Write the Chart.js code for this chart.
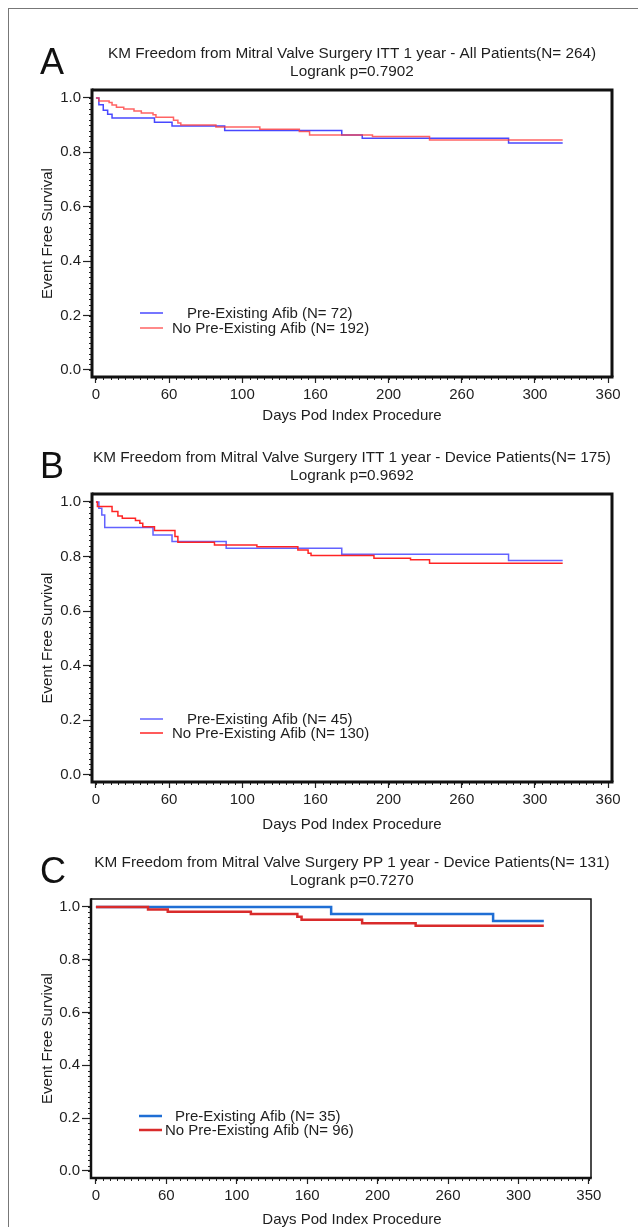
<!DOCTYPE html>
<html>
<head>
<meta charset="utf-8">
<script src="https://cdn.jsdelivr.net/npm/chart.js@4.4.1/dist/chart.umd.min.js"></script>
<style>
  html, body { margin: 0; padding: 0; background: #fff; }
  #page { position: relative; width: 638px; height: 1227px; overflow: hidden; }
  #page canvas { position: absolute; left: 0; top: 0; }
  .edge-top { position: absolute; left: 8px; top: 8px; right: 0; border-top: 1px solid #777; }
  .edge-left { position: absolute; left: 8px; top: 8px; bottom: 0; border-left: 1px solid #777; }
</style>
</head>
<body>
<div id="page">
  <div class="edge-top"></div>
  <div class="edge-left"></div>
  <canvas id="chartA" width="638" height="1227"></canvas>
  <canvas id="chartB" width="638" height="1227"></canvas>
  <canvas id="chartC" width="638" height="1227"></canvas>
</div>
<script>
// tick labels (the figure prints these under evenly spaced ticks)
const xTickVals = [0, 50, 100, 150, 200, 250, 300, 350];
const xLabelsAB = ['0', '60', '100', '160', '200', '260', '300', '360'];
const xLabelsC = ['0', '60', '100', '160', '200', '260', '300', '350'];
const yTickVals = [0, 0.2, 0.4, 0.6, 0.8, 1.0];

// A - ITT, all patients
const aPreDays = [0, 2, 5, 8, 11, 40, 52, 88, 168, 182, 282, 319];
const aPreSurv = [1, 0.975, 0.955, 0.94, 0.926, 0.91, 0.897, 0.88, 0.864, 0.852, 0.834, 0.834];
const aNoDays = [0, 2, 9, 11, 14, 19, 26, 31, 39, 41, 53, 56, 58, 82, 112, 139, 146, 189, 228, 319];
const aNoSurv = [1, 0.989, 0.983, 0.974, 0.966, 0.959, 0.952, 0.944, 0.938, 0.929, 0.918, 0.908, 0.9, 0.893, 0.885, 0.876, 0.864, 0.858, 0.845, 0.845];

// B - ITT, device patients
const bPreDays = [0, 2, 4, 6, 39, 52, 89, 168, 282, 319];
const bPreSurv = [1, 0.977, 0.952, 0.906, 0.879, 0.855, 0.83, 0.808, 0.785, 0.785];
const bNoDays = [0, 1, 11, 15, 18, 27, 30, 32, 40, 54, 56, 81, 110, 138, 145, 147, 190, 215, 228, 319];
const bNoSurv = [1, 0.983, 0.965, 0.948, 0.94, 0.932, 0.922, 0.909, 0.895, 0.873, 0.852, 0.842, 0.836, 0.824, 0.812, 0.804, 0.794, 0.788, 0.775, 0.775];

// C - PP, device patients
const cPreDays = [0, 167, 282, 318];
const cPreSurv = [1, 0.973, 0.947, 0.947];
const cNoDays = [0, 37, 51, 110, 143, 146, 189, 227, 318];
const cNoSurv = [1, 0.99, 0.982, 0.973, 0.963, 0.951, 0.938, 0.929, 0.929];

const FONT = '"Liberation Sans", Arial, Helvetica, sans-serif';
const TXT = '#1e1e1e';

// letters, titles, legend, minor ticks and the plot frame
const decor = {
  id: 'panelDecor',
  afterDraw(chart, args, o) {
    const { ctx, chartArea: a, scales: { x, y } } = chart;
    ctx.save();

    // minor ticks
    ctx.strokeStyle = '#222';
    ctx.lineWidth = 1;
    ctx.beginPath();
    const xEnd = xTickVals[xTickVals.length - 1];
    for (let i = 0; i * o.xMinor <= xEnd; i++) {
      const px = Math.round(x.getPixelForValue(i * o.xMinor)) + 0.5;
      ctx.moveTo(px, a.bottom);
      ctx.lineTo(px, a.bottom + 3);
    }
    for (let i = 0; i <= 50; i++) {
      const py = Math.round(y.getPixelForValue(i * 0.02)) + 0.5;
      ctx.moveTo(a.left, py);
      ctx.lineTo(a.left - 3, py);
    }
    ctx.stroke();

    // frame
    ctx.strokeStyle = '#111';
    ctx.lineWidth = o.frameThin;
    ctx.beginPath();
    ctx.moveTo(a.left, a.top);
    ctx.lineTo(a.right, a.top);
    ctx.lineTo(a.right, a.bottom);
    ctx.stroke();
    ctx.lineWidth = o.frameThick;
    ctx.beginPath();
    ctx.moveTo(a.left, a.top - o.frameThin / 2);
    ctx.lineTo(a.left, a.bottom);
    ctx.lineTo(a.right + o.frameThin / 2, a.bottom);
    ctx.stroke();

    // panel letter and title
    ctx.fillStyle = '#111';
    ctx.textAlign = 'left';
    ctx.textBaseline = 'alphabetic';
    ctx.font = '36px ' + FONT;
    ctx.fillText(o.letter, 40, a.top - 16);

    ctx.fillStyle = TXT;
    ctx.font = '15.3px ' + FONT;
    ctx.textAlign = 'center';
    ctx.textBaseline = 'middle';
    ctx.fillText(o.title[0], 352, a.top - 36);
    ctx.fillText(o.title[1], 352, a.top - 18);

    // axis titles
    ctx.font = '15px ' + FONT;
    ctx.fillText('Days Pod Index Procedure', 352, a.bottom + o.xTitleDy);
    ctx.save();
    ctx.translate(48, (a.top + a.bottom) / 2);
    ctx.rotate(-Math.PI / 2);
    ctx.fillText('Event Free Survival', 0, 0);
    ctx.restore();

    // legend
    ctx.textAlign = 'left';
    chart.data.datasets.forEach((ds, i) => {
      const ly = a.bottom - o.legendDy[i];
      ctx.strokeStyle = ds.borderColor;
      ctx.lineWidth = ds.borderWidth;
      ctx.beginPath();
      ctx.moveTo(a.left + 48, ly);
      ctx.lineTo(a.left + 71, ly);
      ctx.stroke();
      ctx.fillStyle = TXT;
      ctx.fillText(ds.label, a.left + o.legendTx[i], ly + 1);
    });

    ctx.restore();
  }
};

function makePanel(id, p) {
  const H = 1227;
  new Chart(document.getElementById(id), {
    type: 'line',
    data: {
      datasets: p.series.map((s, k) => ({
        label: s.label,
        data: s.days.map((d, i) => ({ x: d, y: s.surv[i] })),
        borderColor: s.color,
        borderWidth: p.lineWidth,
        pointRadius: 0,
        stepped: true,
        fill: false,
        order: k === 0 ? 1 : 0 // red curve on top
      }))
    },
    options: {
      responsive: false,
      animation: false,
      devicePixelRatio: 1,
      layout: { padding: { top: p.box.top, right: 638 - p.box.right, left: 0, bottom: 0 } },
      plugins: {
        legend: { display: false },
        tooltip: { enabled: false },
        panelDecor: p
      },
      scales: {
        x: {
          type: 'linear',
          min: p.xMin,
          max: p.xMax,
          afterFit: s => { s.height = H - p.box.bottom; },
          afterBuildTicks: s => { s.ticks = xTickVals.map(v => ({ value: v })); },
          ticks: {
            callback: (v, i) => p.xLabels[i],
            autoSkip: false,
            maxRotation: 0,
            padding: 3,
            color: TXT,
            font: { family: FONT, size: 15 }
          },
          grid: { drawOnChartArea: false, tickLength: 6, tickColor: '#222', tickWidth: 1.2 },
          border: { display: false }
        },
        y: {
          type: 'linear',
          min: p.yMin,
          max: p.yMax,
          afterFit: s => { s.width = p.box.left; },
          afterBuildTicks: s => { s.ticks = yTickVals.map(v => ({ value: v })); },
          ticks: {
            callback: v => v.toFixed(1),
            padding: 2,
            color: TXT,
            font: { family: FONT, size: 15 }
          },
          grid: { drawOnChartArea: false, tickLength: 9, tickColor: '#222', tickWidth: 1.2 },
          border: { display: false }
        }
      }
    },
    plugins: [decor]
  });
}

makePanel('chartA', {
  letter: 'A',
  title: ['KM Freedom from Mitral Valve Surgery ITT 1 year - All Patients(N= 264)', 'Logrank p=0.7902'],
  box: { left: 92, right: 612, top: 90, bottom: 377 },
  xMin: -2.7, xMax: 352.7, yMin: -0.026, yMax: 1.029,
  xLabels: xLabelsAB, xMinor: 5, xTitleDy: 39,
  lineWidth: 1.5, frameThin: 3, frameThick: 3,
  legendDy: [64, 49], legendTx: [95, 80],
  series: [
    { label: 'Pre-Existing Afib (N= 72)', days: aPreDays, surv: aPreSurv, color: 'rgba(40,40,255,0.85)' },
    { label: 'No Pre-Existing Afib (N= 192)', days: aNoDays, surv: aNoSurv, color: 'rgba(255,60,60,0.8)' }
  ]
});

makePanel('chartB', {
  letter: 'B',
  title: ['KM Freedom from Mitral Valve Surgery ITT 1 year - Device Patients(N= 175)', 'Logrank p=0.9692'],
  box: { left: 92, right: 612, top: 494, bottom: 782 },
  xMin: -2.7, xMax: 352.7, yMin: -0.026, yMax: 1.029,
  xLabels: xLabelsAB, xMinor: 5, xTitleDy: 43,
  lineWidth: 1.5, frameThin: 3, frameThick: 3,
  legendDy: [63, 49], legendTx: [95, 80],
  series: [
    { label: 'Pre-Existing Afib (N= 45)', days: bPreDays, surv: bPreSurv, color: 'rgba(70,70,255,0.85)' },
    { label: 'No Pre-Existing Afib (N= 130)', days: bNoDays, surv: bNoSurv, color: '#ff2424' }
  ]
});

makePanel('chartC', {
  letter: 'C',
  title: ['KM Freedom from Mitral Valve Surgery PP 1 year - Device Patients(N= 131)', 'Logrank p=0.7270'],
  box: { left: 91, right: 591, top: 899, bottom: 1178 },
  xMin: -3.5, xMax: 351.5, yMin: -0.027, yMax: 1.03,
  xLabels: xLabelsC, xMinor: 5, xTitleDy: 42,
  lineWidth: 2.5, frameThin: 1.5, frameThick: 2.5,
  legendDy: [62, 48], legendTx: [84, 74],
  series: [
    { label: 'Pre-Existing Afib (N= 35)', days: cPreDays, surv: cPreSurv, color: '#1f6ed4' },
    { label: 'No Pre-Existing Afib (N= 96)', days: cNoDays, surv: cNoSurv, color: '#d92b2b' }
  ]
});
</script>
</body>
</html>
